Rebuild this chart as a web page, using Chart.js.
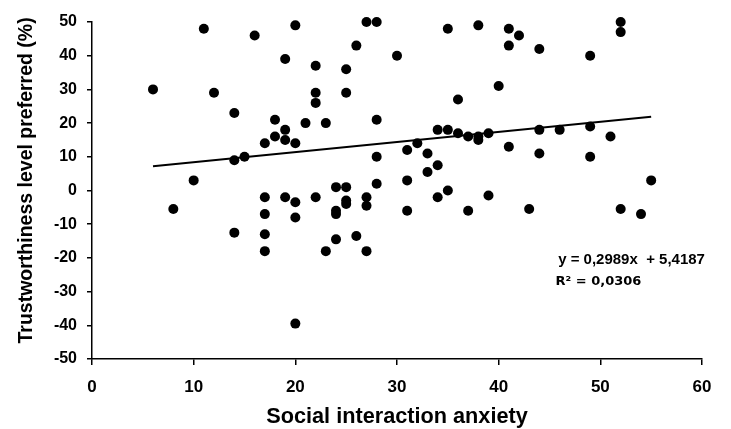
<!DOCTYPE html>
<html>
<head>
<meta charset="utf-8">
<script src="https://cdn.jsdelivr.net/npm/chart.js@4"></script>
<style>
  body { margin: 0; background: #fff; }
</style>
</head>
<body>
<canvas id="chart" width="731" height="429"></canvas>
<script>
// data
const anxiety = [6, 8, 10, 11, 12, 14, 14, 14, 15, 16,
    17, 17, 17, 17, 17, 18, 18, 19, 19, 19,
    19, 20, 20, 20, 20, 20, 21, 22, 22, 22,
    22, 23, 23, 24, 24, 24, 24, 25, 25, 25,
    25, 25, 26, 26, 27, 27, 27, 27, 28, 28,
    28, 28, 30, 31, 31, 31, 32, 33, 33, 34,
    34, 34, 35, 35, 35, 36, 36, 37, 37, 38,
    38, 38, 39, 39, 40, 41, 41, 41, 42, 43,
    44, 44, 44, 46, 49, 49, 49, 51, 52, 52,
    52, 54, 55];
const trust = [30, -5.5, 3, 48, 29, 23, 9, -12.5, 10, 46,
    14, -2, -7, -13, -18, 21, 16, 39, 18, 15,
    -2, 49, 14, -3.5, -8, -39.5, 20, 37, 29, 26,
    -2, 20, -18, 1, -6, -7, -14.5, 36, 29, 1,
    -3, -4, 43, -13.5, 50, -2, -4.5, -18, 50, 21,
    10, 2, 40, 12, 3, -6, 14, 11, 5.5, 18,
    7.5, -2, 48, 18, 0, 27, 17, 16, -6, 49,
    16, 15, 17, -1.5, 31, 48, 43, 13, 46, -5.5,
    42, 18, 11, 18, 40, 19, 10, 16, 50, 47,
    -5.5, -7, 3];

// linear trend from the chart
const slope = 0.2989;
const intercept = 5.4187;
const rSquared = 0.0306;

const xTicks = [0, 10, 20, 30, 40, 50, 60];
const yTicks = [-50, -40, -30, -20, -10, 0, 10, 20, 30, 40, 50];
const yTitle = 'Trustworthiness level preferred (%)';

const points = anxiety.map(function (x, i) { return { x: x, y: trust[i] }; });
const xMin = Math.min(...anxiety);
const xMax = Math.max(...anxiety);
const trend = [xMin, xMax].map(function (x) { return { x: x, y: slope * x + intercept }; });

const comma = function (n) { return String(n).replace('.', ','); };

// equation, R² and the y axis title
const trendLabel = {
    id: 'trendLabel',
    afterDraw(chart) {
        const ctx = chart.ctx;
        const xs = chart.scales.x, ys = chart.scales.y;
        ctx.save();
        ctx.fillStyle = '#000';
        ctx.textBaseline = 'alphabetic';
        ctx.textAlign = 'left';
        ctx.font = 'bold 15px "Liberation Sans", Arial, sans-serif';
        ctx.fillText('y = ' + comma(slope) + 'x  + ' + comma(intercept),
            xs.getPixelForValue(45.85), ys.getPixelForValue(-21.8));
        ctx.font = 'bold 13px "DejaVu Sans", sans-serif';
        ctx.fillText('R\u00B2 = ' + comma(rSquared),
            xs.getPixelForValue(45.6), ys.getPixelForValue(-28.0));

        // y title sits a bit above the axis middle in the original
        ctx.translate(27, ys.getPixelForValue(3));
        ctx.rotate(-Math.PI / 2);
        ctx.textAlign = 'center';
        ctx.textBaseline = 'middle';
        ctx.font = 'bold 19.5px "Liberation Sans", Arial, sans-serif';
        ctx.fillText(yTitle, 0, 0);
        ctx.restore();
    }
};

const chart = document.querySelector('#chart').getContext('2d');

new Chart(chart, {
    type: 'scatter',
    data: {
        datasets: [
            {
                label: 'data',
                data: points,
                backgroundColor: '#000',
                borderColor: '#000',
                pointRadius: 5,
                pointBorderWidth: 0,
                clip: false
            },
            {
                label: 'trend',
                type: 'line',
                data: trend,
                borderColor: '#000',
                borderWidth: 2,
                pointRadius: 0,
                fill: false
            }
        ]
    },
    options: {
        responsive: false,
        animation: false,
        layout: { padding: { top: 22, right: 29, left: 0, bottom: 0 } },
        plugins: {
            legend: { display: false },
            tooltip: { enabled: false }
        },
        scales: {
            x: {
                type: 'linear',
                min: 0,
                max: 60,
                afterFit: function (s) { s.height = 70; },
                afterBuildTicks: function (s) { s.ticks = xTicks.map(function (v) { return { value: v }; }); },
                grid: { drawOnChartArea: false, drawTicks: true, tickLength: 6, color: '#000', lineWidth: 1.5 },
                border: { color: '#000', width: 1.5 },
                ticks: {
                    color: '#000',
                    padding: 12,
                    maxRotation: 0,
                    font: { family: '"Liberation Sans", Arial, sans-serif', size: 17, weight: 'bold' }
                },
                title: {
                    display: true,
                    text: 'Social interaction anxiety',
                    color: '#000',
                    padding: { top: 0, bottom: 0 },
                    font: { family: '"Liberation Sans", Arial, sans-serif', size: 21.7, weight: 'bold', lineHeight: 1.1 }
                }
            },
            y: {
                type: 'linear',
                min: -50,
                max: 50,
                afterFit: function (s) { s.width = 92; },
                afterBuildTicks: function (s) { s.ticks = yTicks.map(function (v) { return { value: v }; }); },
                grid: { drawOnChartArea: false, drawTicks: true, tickLength: 5, color: '#000', lineWidth: 1.5 },
                border: { color: '#000', width: 1.5 },
                ticks: {
                    color: '#000',
                    padding: 10,
                    font: { family: '"Liberation Sans", Arial, sans-serif', size: 16, weight: 'bold' }
                }
            }
        }
    },
    plugins: [trendLabel]
});
</script>
</body>
</html>
